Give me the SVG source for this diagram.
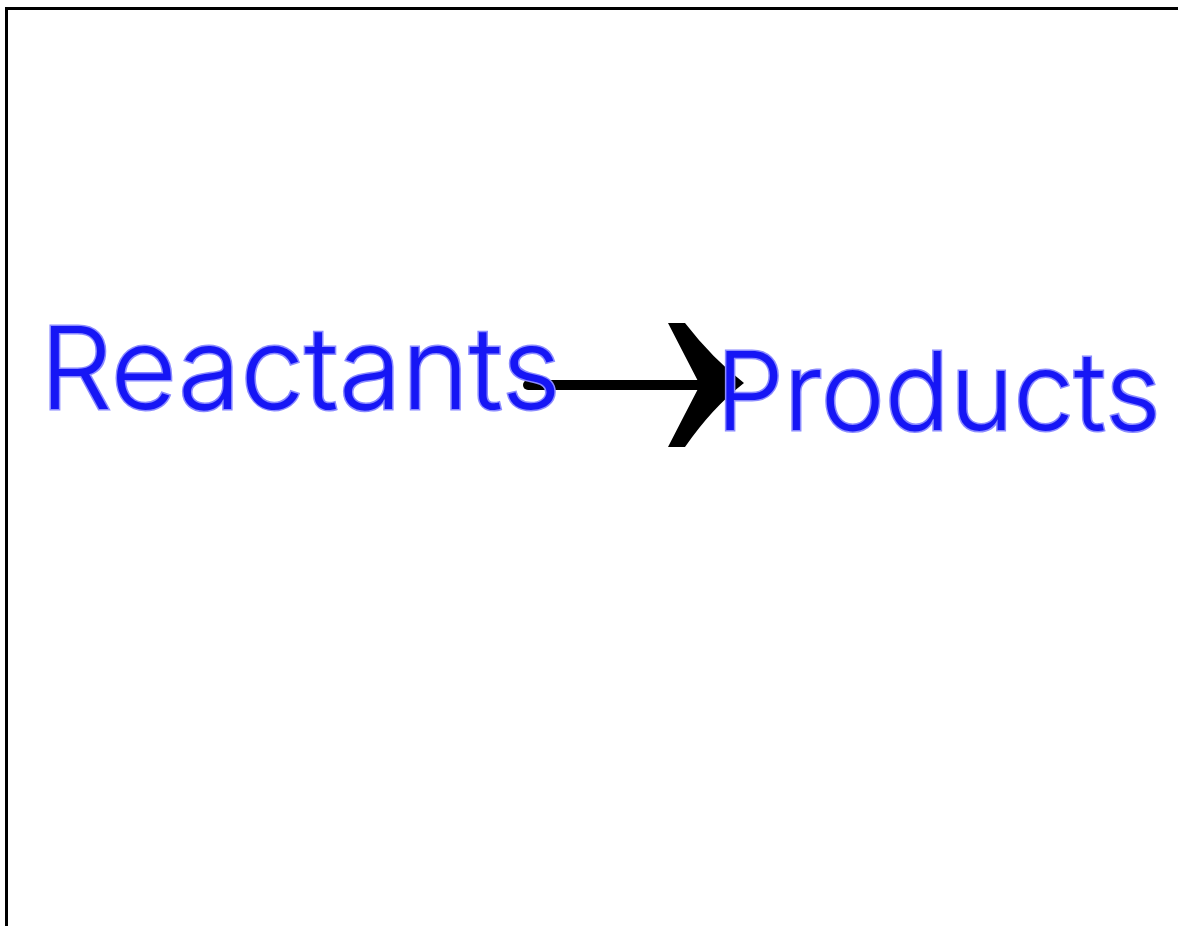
<svg xmlns="http://www.w3.org/2000/svg" width="1178" height="926" viewBox="0 0 1178 926">
<style>
.hand{font-family:"Inter","Lato","Liberation Sans",sans-serif;font-weight:300;fill:#1616f5;stroke:#8c8cff;stroke-width:3;paint-order:stroke;}
.frame{stroke:#000;stroke-width:3;fill:none;}
</style>
<rect width="1178" height="926" fill="#fff"/>
<path class="frame" d="M6.5,926 V8.5 H1178"/>
<g id="connectors">
<line x1="528" y1="385" x2="712" y2="385" stroke="#000" stroke-width="10" stroke-linecap="round"/>
<path d="M668,323 L685,323 Q712,358 744,383 Q712,408 685,447 L668,447 Q686,412 700,385 Q686,358 668,323 Z" fill="#000"/>
</g>
<g id="reactants">
<text class="hand" x="40" y="409" font-size="114">Reactants</text>
</g>
<g id="products">
<text class="hand" x="716" y="430" font-size="108">Products</text>
</g>
</svg>
